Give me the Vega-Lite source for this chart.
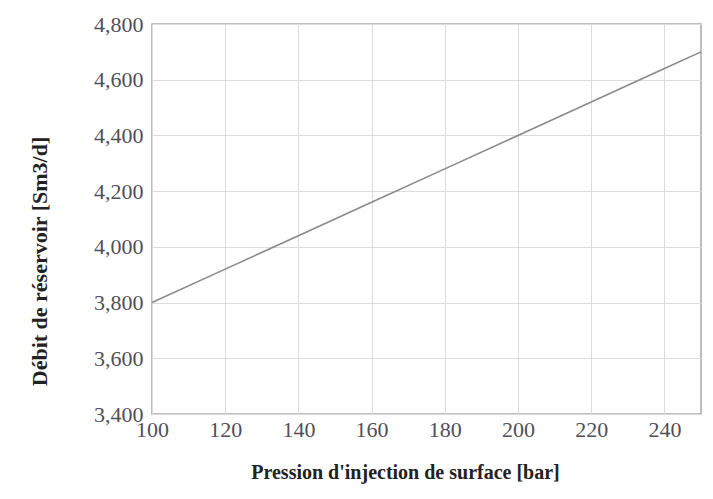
{
  "$schema": "https://vega.github.io/schema/vega-lite/v6.json",
  "width": 549,
  "height": 390,
  "autosize": {"type": "none"},
  "padding": {"left": 152, "top": 24, "right": 12, "bottom": 85},
  "background": "white",
  "data": {"values": [
    {"p": 100, "q": 3800},
    {"p": 120, "q": 3920},
    {"p": 140, "q": 4040},
    {"p": 160, "q": 4160},
    {"p": 180, "q": 4280},
    {"p": 200, "q": 4400},
    {"p": 220, "q": 4520},
    {"p": 240, "q": 4640},
    {"p": 250, "q": 4700}
  ]},
  "mark": {"type": "line", "color": "#8a8a8a", "strokeWidth": 1.6},
  "encoding": {
    "x": {
      "field": "p", "type": "quantitative",
      "scale": {"domain": [100, 250], "nice": false, "zero": false},
      "axis": {
        "values": [100, 120, 140, 160, 180, 200, 220, 240],
        "title": "Pression d'injection de surface [bar]",
        "titleFontSize": 20,
        "titleX": 253, "titleY": 58, "titleBaseline": "middle",
        "labelPadding": 5
      }
    },
    "y": {
      "field": "q", "type": "quantitative",
      "scale": {"domain": [3400, 4800], "nice": false, "zero": false},
      "axis": {
        "values": [3400, 3600, 3800, 4000, 4200, 4400, 4600, 4800],
        "format": ",d",
        "title": "Débit de réservoir  [Sm3/d]",
        "titleFontSize": 22,
        "titleX": -113, "titleY": 237, "titleAngle": -90, "titleBaseline": "middle", "titleAlign": "center",
        "labelPadding": 9
      }
    }
  },
  "config": {
    "view": {"stroke": "#a8a8a8", "strokeWidth": 1.5},
    "axis": {
      "domain": false,
      "ticks": false,
      "grid": true,
      "gridColor": "#dcdcdc",
      "gridWidth": 1,
      "labelFlush": false,
      "labelOverlap": false,
      "labelFont": "Liberation Serif",
      "labelFontSize": 22,
      "labelColor": "#505058",
      "titleFont": "Liberation Serif",
      "titleFontWeight": "bold",
      "titleColor": "#222222"
    }
  }
}
